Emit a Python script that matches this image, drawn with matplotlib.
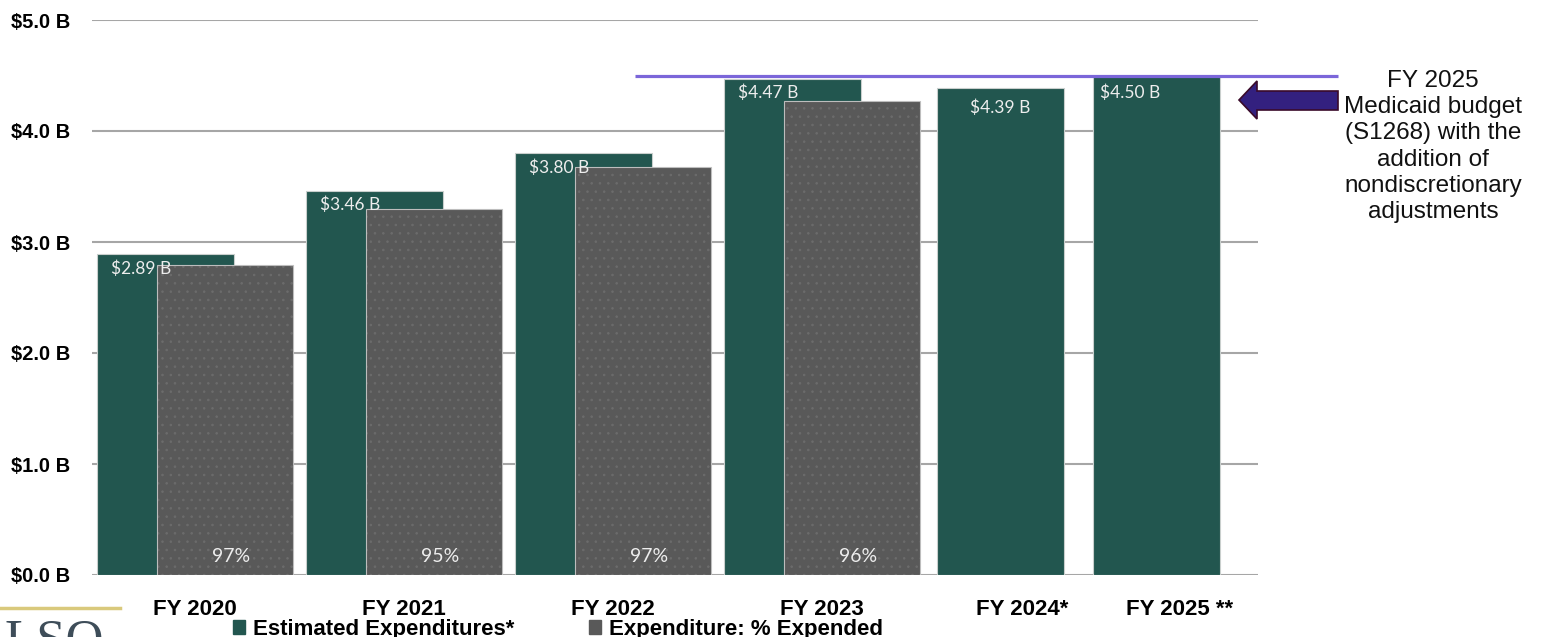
import matplotlib
matplotlib.use("Agg")
import matplotlib.pyplot as plt
from matplotlib.patches import Patch, Polygon
from matplotlib.lines import Line2D

# ---------------- data ----------------
categories = ["FY 2020", "FY 2021", "FY 2022", "FY 2023", "FY 2024*", "FY 2025 **"]
estimated = [2.89, 3.46, 3.80, 4.47, 4.39, 4.50]          # $ billions
estimated_labels = ["$2.89 B", "$3.46 B", "$3.80 B", "$4.47 B", "$4.39 B", "$4.50 B"]
expended = [2.79, 3.30, 3.68, 4.27]                       # $ billions (first four years)
expended_pct = ["97%", "95%", "97%", "96%"]
budget_fy2025 = 4.50
yticks = [0, 1, 2, 3, 4, 5]
ytick_labels = ["$0.0 B", "$1.0 B", "$2.0 B", "$3.0 B", "$4.0 B", "$5.0 B"]
legend_labels = ["Estimated Expenditures*", "Expenditure: % Expended"]
note_text = ("FY 2025\nMedicaid budget\n(S1268) with the\naddition of\n"
             "nondiscretionary\nadjustments")

# ---------------- layout ----------------
group_x = [0, 1, 2, 3, 3.854, 4.600]
tick_x = [0, 1, 2, 3, 3.957, 4.713]
green_off = [-0.141, -0.141, -0.141, -0.141, 0.0, 0.0]
green_w = [0.655, 0.655, 0.655, 0.655, 0.608, 0.608]
grey_off, grey_w = 0.144, 0.651

GREEN = "#22564F"
GREY = "#595959"
W, H = 1541, 637

fig = plt.figure(figsize=(W / 100, H / 100), dpi=100)
ax = fig.add_axes([92 / W, 1 - 575 / H, (1258 - 92) / W, (575 - 20) / H])
ax.set_xlim(-0.493, 5.086)
ax.set_ylim(0, 5)

for s in ax.spines.values():
    s.set_visible(False)
ax.set_axisbelow(True)
ax.yaxis.grid(True, color="#A6A6A6", linewidth=1.5)
ax.set_yticks(yticks)
ax.set_yticklabels(ytick_labels, fontsize=14.5, fontweight="bold",
                   family=["Liberation Sans", "DejaVu Sans"])
ax.set_xticks(tick_x)
ax.set_xticklabels(categories, fontsize=16, fontweight="bold",
                   family=["Liberation Sans", "DejaVu Sans"])
ax.tick_params(axis="y", length=0, pad=16)
ax.tick_params(axis="x", length=0, pad=17)

plt.rcParams["hatch.linewidth"] = 0.6

# green bars
gx = [g + o for g, o in zip(group_x, green_off)]
ax.bar(gx, estimated, width=green_w, color=GREEN, edgecolor="#C9CFCD",
       linewidth=0.8, zorder=2)

# grey bars (dotted)
ex = [group_x[i] + grey_off for i in range(len(expended))]
ax.bar(ex, expended, width=grey_w, color=GREY, edgecolor="#6C6C6C",
       linewidth=0, hatch="..", zorder=3)
ax.bar(ex, expended, width=grey_w, fill=False, edgecolor="#BDBDBD",
       linewidth=0.8, zorder=3)

lab_font = ["Lato", "DejaVu Sans"]
# value labels on green bars
for i in range(4):
    left = gx[i] - green_w[i] / 2
    ax.annotate(estimated_labels[i], (left, estimated[i]), xytext=(14, -6),
                textcoords="offset pixels", ha="left", va="top",
                color="#EDEDED", fontsize=12.5, family=lab_font, zorder=5)
ax.annotate(estimated_labels[4], (gx[4], estimated[4]), xytext=(0, -20),
            textcoords="offset pixels", ha="center", va="center",
            color="#EDEDED", fontsize=12.5, family=lab_font, zorder=5)
ax.annotate(estimated_labels[5], (gx[5] - green_w[5] / 2, estimated[5]),
            xytext=(7, -17), textcoords="offset pixels", ha="left",
            va="center", color="#EDEDED", fontsize=12.5, family=lab_font,
            zorder=5)

# percent labels
for i in range(4):
    ax.annotate(expended_pct[i], (ex[i], 0), xytext=(6, 19),
                textcoords="offset pixels", ha="center", va="center",
                color="#EDEDED", fontsize=14, family=lab_font, zorder=5)

# budget line
ax.plot([2.105, 5.469], [budget_fy2025, budget_fy2025], color="#7B66D9",
        linewidth=2.3, clip_on=False, zorder=6, solid_capstyle="butt")

# arrow (figure pixel coords)
pts = [(1239, 100), (1257, 81), (1257, 91), (1338, 91), (1338, 110),
       (1257, 110), (1257, 119)]
fig.patches.append(Polygon([(x / W, 1 - y / H) for x, y in pts], closed=True,
                           facecolor="#33207F", edgecolor="#3A0A2A",
                           linewidth=1.2, transform=fig.transFigure))

# note text
fig.text(1433 / W, 1 - 70 / H, note_text, ha="center", va="top",
         fontsize=17.5, linespacing=1.25, color="#111111",
         family=["Liberation Sans", "DejaVu Sans"])

# legend
handles = [Patch(facecolor=GREEN, edgecolor=GREEN),
           Patch(facecolor=GREY, edgecolor=GREY)]
fig.legend(handles, legend_labels, loc="upper left",
           bbox_to_anchor=(233 / W, 1 - 619 / H), ncol=2, frameon=False,
           handlelength=0.55, handleheight=0.55, handletextpad=0.35,
           columnspacing=3.35, borderpad=0, borderaxespad=0,
           prop={"family": ["Liberation Sans", "DejaVu Sans"],
                 "weight": "bold", "size": 16})

# LSO logo
fig.add_artist(Line2D([0, 120 / W], [1 - 608 / H, 1 - 608 / H],
                      color="#D9C97C", linewidth=2.5,
                      transform=fig.transFigure))
fig.text(4 / W, 1 - 656 / H, "LSO", ha="left", va="baseline", fontsize=38,
         color="#3E4D59", family=["Liberation Serif", "DejaVu Serif"])

fig.savefig("out.png", dpi=100)
